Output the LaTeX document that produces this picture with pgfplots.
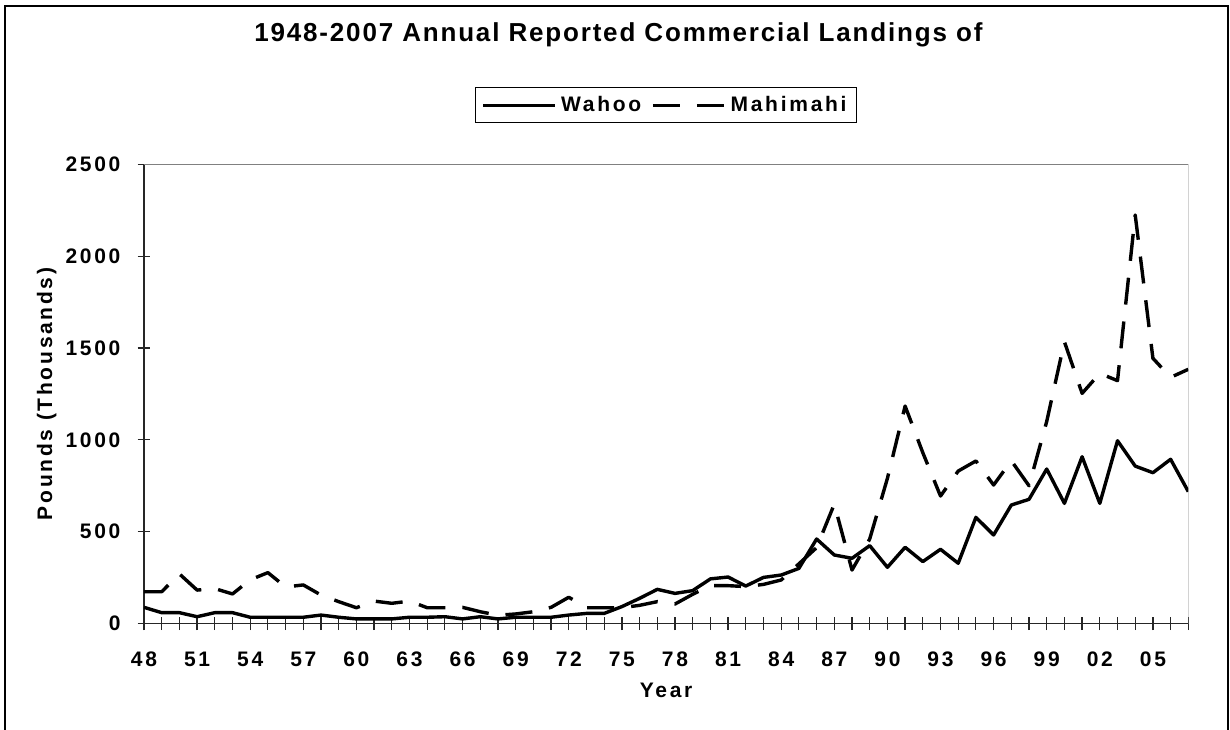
\documentclass[border=0pt]{standalone}
\usepackage{fontspec}
\setmainfont{Liberation Sans}[LetterSpace=13]
\newfontfamily\titlefont{Liberation Sans}[LetterSpace=7]
\usepackage{pgfplots}
\pgfplotsset{compat=1.18}
\usepackage{pgfplotstable}

% annual landings, thousands of pounds
\pgfplotstableread{
year wahoo mahimahi
1948 88 173
1949 59 173
1950 59 270
1951 37 182
1952 59 190
1953 59 161
1954 34 238
1955 34 277
1956 34 199
1957 34 210
1958 46 155
1959 34 119
1960 25 86
1961 25 122
1962 25 110
1963 34 122
1964 34 86
1965 37 86
1966 25 88
1967 37 64
1968 25 45
1969 34 52
1970 34 64
1971 34 88
1972 46 143
1973 55 86
1974 55 86
1975 92 86
1976 137 99
1977 186 119
1978 164 106
1979 179 159
1980 243 206
1981 253 206
1982 204 201
1983 251 213
1984 264 237
1985 300 325
1986 460 413
1987 373 650
1988 355 291
1989 424 460
1990 306 790
1991 415 1184
1992 337 930
1993 404 694
1994 328 830
1995 578 885
1996 482 754
1997 645 886
1998 676 750
1999 841 1100
2000 654 1534
2001 908 1253
2002 654 1362
2003 995 1322
2004 857 2224
2005 821 1444
2006 894 1340
2007 718 1384
}\landings

\begin{document}
\begin{tikzpicture}
\useasboundingbox (-72pt,-52.75pt) rectangle (543pt,311.75pt);
\begin{axis}[
  at={(0pt,0pt)}, anchor=south west,
  scale only axis, width=522.15pt, height=229.6pt,
  xmin=1948, xmax=2007, ymin=0, ymax=2500,
  axis x line*=bottom, axis y line*=left,
  axis line style={black!85, line width=0.6pt},
  xtick={1948,1951,...,2005},
  xticklabels={48,51,54,57,60,63,66,69,72,75,78,81,84,87,90,93,96,99,02,05},
  minor xtick={1948,...,2007},
  ytick={0,500,...,2500},
  tick align=center,
  major tick length=6.5pt, minor tick length=6.5pt,
  every tick/.style={black!85, line width=0.6pt},
  tick label style={font=\bfseries\fontsize{10.5}{12}\selectfont},
  /pgf/number format/assume math mode=true,
  /pgf/number format/1000 sep={},
  xticklabel style={yshift=-7.3pt},
  yticklabel style={xshift=-5pt},
  xlabel={Year}, ylabel={Pounds (Thousands)},
  label style={font=\bfseries\fontsize{10.5}{12}\selectfont},
  xlabel style={at={(axis description cs:0.5,-0.1448)}, anchor=center},
  ylabel style={at={(axis description cs:-0.0932,0.5)}, anchor=center},
  title={1948-2007 Annual Reported Commercial Landings of},
  title style={font=\titlefont\bfseries\fontsize{13}{15}\selectfont,
    at={(axis description cs:0.4543,1.2417)}, anchor=base},
  legend columns=-1,
  legend style={at={(axis description cs:0.5,1.1285)}, anchor=center,
    draw=black, line width=0.6pt,
    font=\bfseries\fontsize{10.5}{12}\selectfont,
    inner xsep=3pt, inner ysep=2.2pt,
    /tikz/every even column/.append style={column sep=3pt}},
  legend image code/.code={\draw[#1] (0pt,0pt) -- (36pt,0pt);},
]
\addplot[black, line width=1.7pt, line join=round]
  table[x=year, y=wahoo] {\landings};
\addlegendentry{Wahoo}
\addplot[black, line width=1.7pt, line join=round, dash pattern=on 13.5pt off 8.5pt]
  table[x=year, y=mahimahi] {\landings};
\addlegendentry{Mahimahi}
\draw[gray, line width=0.5pt] (rel axis cs:0,1) -- (rel axis cs:1,1) -- (rel axis cs:1,0);
\end{axis}
\draw[black, line width=1.3pt] (-69.5pt,-60pt) -- (-69.5pt,308.75pt) -- (542pt,308.75pt) -- (542pt,-60pt);
\end{tikzpicture}
\end{document}
